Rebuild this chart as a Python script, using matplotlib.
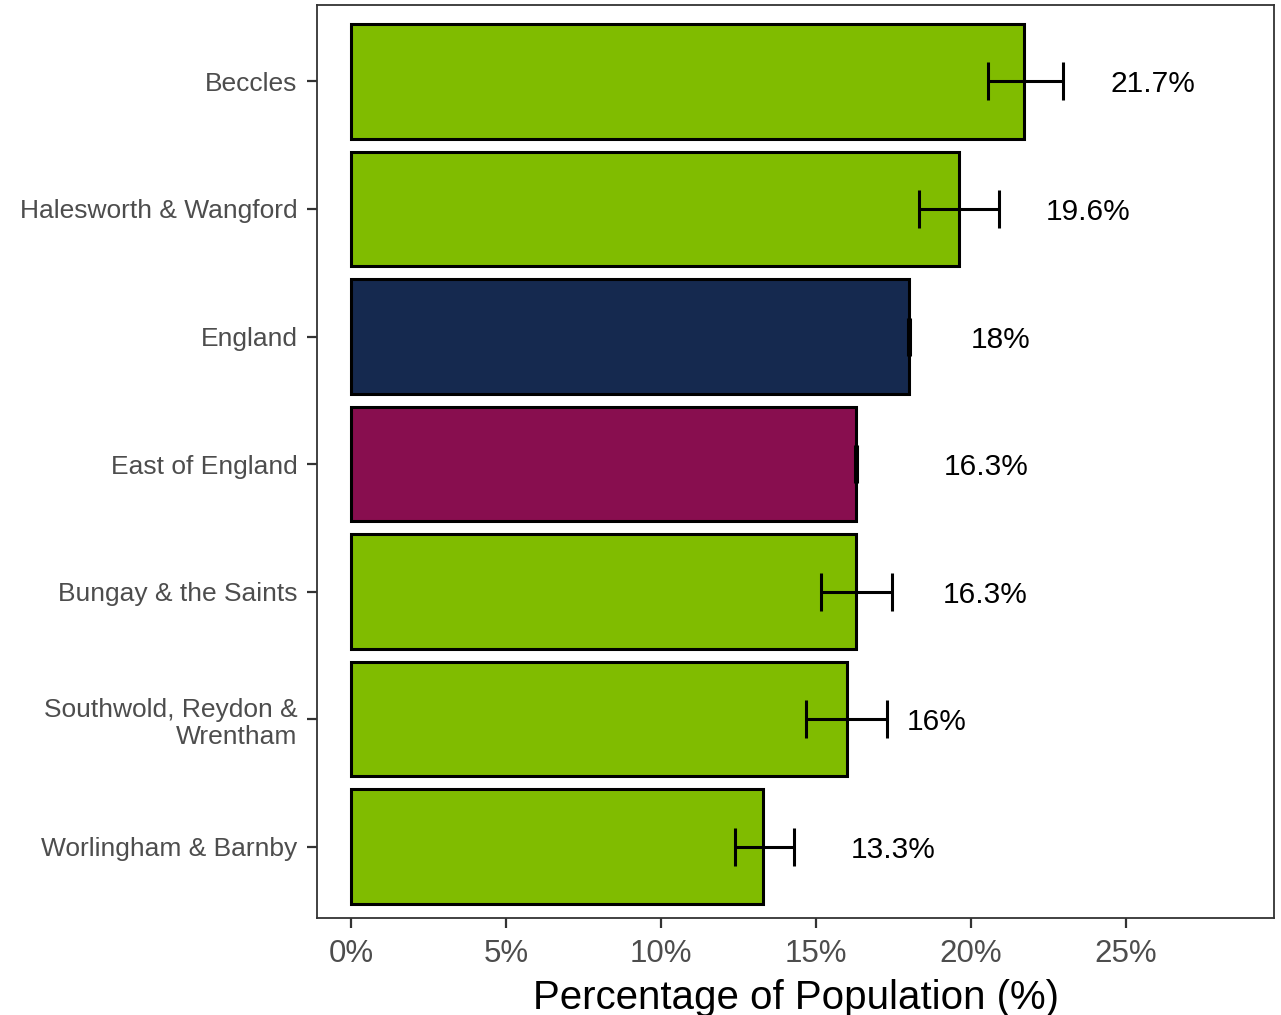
import matplotlib.pyplot as plt

plt.rcParams['font.family'] = ['Liberation Sans', 'DejaVu Sans']

# ── Data ──────────────────────────────────────────────────────────────────────
areas = ["Beccles", "Halesworth & Wangford", "England", "East of England",
         "Bungay & the Saints", "Southwold, Reydon &\nWrentham",
         "Worlingham & Barnby"]
values = [21.7, 19.6, 18.0, 16.3, 16.3, 16.0, 13.3]
ci_low = [20.55, 18.32, 17.97, 16.27, 15.16, 14.68, 12.39]
ci_high = [22.97, 20.90, 18.03, 16.33, 17.45, 17.29, 14.29]
value_labels = ["21.7%", "19.6%", "18%", "16.3%", "16.3%", "16%", "13.3%"]
kinds = ["ward", "ward", "england", "region", "ward", "ward", "ward"]

# label centres (in % units)
label_x = [25.87, 23.77, 20.94, 20.48, 20.45, 18.9, 17.48]

colors = {"ward": "#80BC00", "england": "#15294F", "region": "#880E4F"}

# ── Plot ──────────────────────────────────────────────────────────────────────
fig = plt.figure(figsize=(12.81, 10.15), dpi=100)
ax = fig.add_axes([0.2475, 0.0956, 0.747, 0.8995])

ypos = list(range(len(areas)))
ax.barh(ypos, values, height=0.9, color=[colors[k] for k in kinds],
        edgecolor="black", linewidth=2.2, zorder=2)

xerr = [[v - lo for v, lo in zip(values, ci_low)],
        [hi - v for v, hi in zip(values, ci_high)]]
ax.errorbar(values, ypos, xerr=xerr, fmt="none", ecolor="black",
            elinewidth=2.2, capsize=14, capthick=2.2, zorder=3)

for y, lx, txt in zip(ypos, label_x, value_labels):
    ax.text(lx, y, txt, ha="center", va="center_baseline", fontsize=21.5,
            color="black")

ax.set_yticks(ypos)
ax.set_yticklabels(areas, fontsize=19, color="#4D4D4D", linespacing=1.2)
ax.set_xticks([0, 5, 10, 15, 20, 25])
ax.set_xticklabels(["0%", "5%", "10%", "15%", "20%", "25%"],
                   fontsize=22.5, color="#4D4D4D")
ax.set_xlim(-1.1, 29.77)
ax.set_ylim(6.56, -0.6)

ax.tick_params(axis="both", direction="out", length=7, width=1.6,
               color="#333333")
ax.tick_params(axis="y", pad=7)
ax.tick_params(axis="x", pad=8)
for s in ax.spines.values():
    s.set_color("#333333")
    s.set_linewidth(1.3)

ax.set_xlabel("Percentage of Population (%)", fontsize=29, labelpad=7)

fig.savefig("out.png", dpi=100)
